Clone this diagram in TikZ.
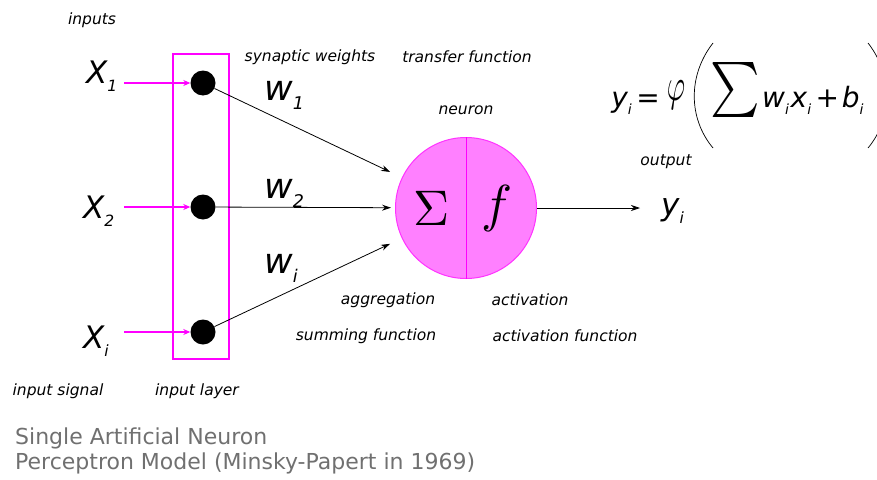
\documentclass[tikz,border=0pt]{standalone}
\usepackage{fontspec}
\setmainfont{DejaVu Sans}
\usetikzlibrary{arrows.meta,positioning}

\definecolor{cellpink}{HTML}{FF80FF}
\definecolor{wirepink}{HTML}{FF00FF}
\definecolor{titlegray}{HTML}{707070}

% small lowered index
\newcommand{\idx}[1]{\raisebox{-0.28em}{\scalebox{0.5}{#1}}\kern0.06em}

\begin{document}
\begin{tikzpicture}[
			x=1pt, y=-1pt,
			note/.style={
				font=\fontsize{15.5}{17}\selectfont\itshape,
				inner sep=0pt
			},
			invar/.style={
				font=\fontsize{31}{34}\selectfont\itshape,
				inner sep=0pt
			},
			unit/.style={
				circle,
				fill=black,
				minimum size=25pt,
				inner sep=0pt
			},
			feed/.style={
				-{Stealth[length=7pt,width=6pt]},
				line width=1.5pt,
				draw=wirepink,
				fill=wirepink
			},
			arrow/.style={
				-{Stealth[length=9pt,width=6pt]},
				line width=0.8pt,
				draw=black
			}
			]
			\useasboundingbox (0,0) rectangle (877,479);
			
			% input layer
			\node[draw=wirepink, line width=1.5pt, minimum width=56pt, minimum height=305pt,
				inner sep=0pt] (layer) at (201,206.5) {};
			\node[unit] (d1) at (203,83) {};
			\node[unit] (d2) at (203,207) {};
			\node[unit] (d3) at (203,332) {};
			
			% inputs
			\node[invar, anchor=base west] (x1) at (86,83) {X\idx{1}};
			\node[invar, anchor=base west] (x2) at (83,218) {X\idx{2}};
			\node[invar, anchor=base west] (x3) at (83,348) {X\idx{\itshape i}};
			\coordinate (s1) at (124,83);
			\coordinate (s2) at (124,207);
			\coordinate (s3) at (124,332);
			\draw[feed] (s1) -- (d1);
			\draw[feed] (s2) -- (d2);
			\draw[feed] (s3) -- (d3);
			
			% neuron
			\node[circle, fill=cellpink, draw=wirepink!80, line width=1pt, minimum size=141pt,
				inner sep=0pt] (neuron) at (466,208) {};
			\draw[wirepink, line width=1pt] (neuron.north) -- (neuron.south);
			\node[inner sep=0pt] (sigma)
				at ([xshift=-34pt]neuron.center) {\scalebox{5}{$\Sigma$}};
			\node[inner sep=0pt] (act)
				at ([xshift=31pt]neuron.center) {\scalebox{5.2}{$f$}};
			
			% weights
			\draw[arrow, shorten >=13pt] (d1) -- (neuron);
			\draw[arrow, shorten >=4pt] (d2) -- (neuron);
			\draw[arrow, shorten >=13pt] (d3) -- (neuron);
			\node[invar, font=\fontsize{35}{36}\selectfont\itshape, anchor=base west] (w1)
				at (264,100) {w\idx{1}};
			\node[invar, font=\fontsize{35}{36}\selectfont\itshape, anchor=base west] (w2)
				at (264,198) {w\idx{2}};
			\node[invar, font=\fontsize{35}{36}\selectfont\itshape, anchor=base west] (w3)
				at (264,273) {w\idx{\itshape i}};
			
			% output
			\node[invar, anchor=base west] (yout) at (661,215) {y\idx{\itshape i}};
			\coordinate (o1) at (640,208);
			\draw[arrow] (neuron) -- (o1);
			
			% formula
			\node[font=\fontsize{28}{30}\selectfont\itshape, inner sep=0pt, anchor=base east] (fy)
				at (660,107) {y\idx{i}\kern0.1em=};
			\node[inner sep=0pt] (phi)
				at (676,95) {\scalebox{2.8}[4.6]{$\varphi$}};
			\draw[line width=0.7pt] (713,43) .. controls (688,75) and (688,118) .. (713,148);
			\node[inner sep=0pt] (fsum)
				at (735,90) {\scalebox{4.7}[5.5]{$\textstyle\sum$}};
			\node[font=\fontsize{28}{30}\selectfont\itshape, inner sep=0pt, anchor=base west] (fterm)
				at (762,107) {w\idx{i}x\idx{i}\kern0.1em+\kern0.1em b\idx{i}};
			\draw[line width=0.7pt] (868,43) .. controls (893,75) and (893,118) .. (868,148);
			
			% labels
			\node[note] (linputs) at (92,20) {inputs};
			\node[note] (lsyn) at (310,57) {synaptic weights};
			\node[note] (ltrans) at (467,57) {transfer function};
			\node[note, above=22pt of neuron] (lneuron) {neuron};
			\node[note] (lout) at (666,162) {output};
			\node[note] (lagg) at (388,300) {aggregation};
			\node[note] (lact) at (530,300) {activation};
			\node[note] (lsum) at (366,336) {summing function};
			\node[note] (lactf) at (565,336) {activation function};
			\node[note] (lsig) at (58,391) {input signal};
			\node[note] (llayer) at (197,391) {input layer};
			
			% title
			\node[font=\fontsize{22}{25}\selectfont, text=titlegray, align=left, anchor=north west,
				inner sep=0pt] (title) at (15,428)
				{Single Artificial Neuron\\Perceptron Model (Minsky-Papert in 1969)};
		\end{tikzpicture}
\end{document}
